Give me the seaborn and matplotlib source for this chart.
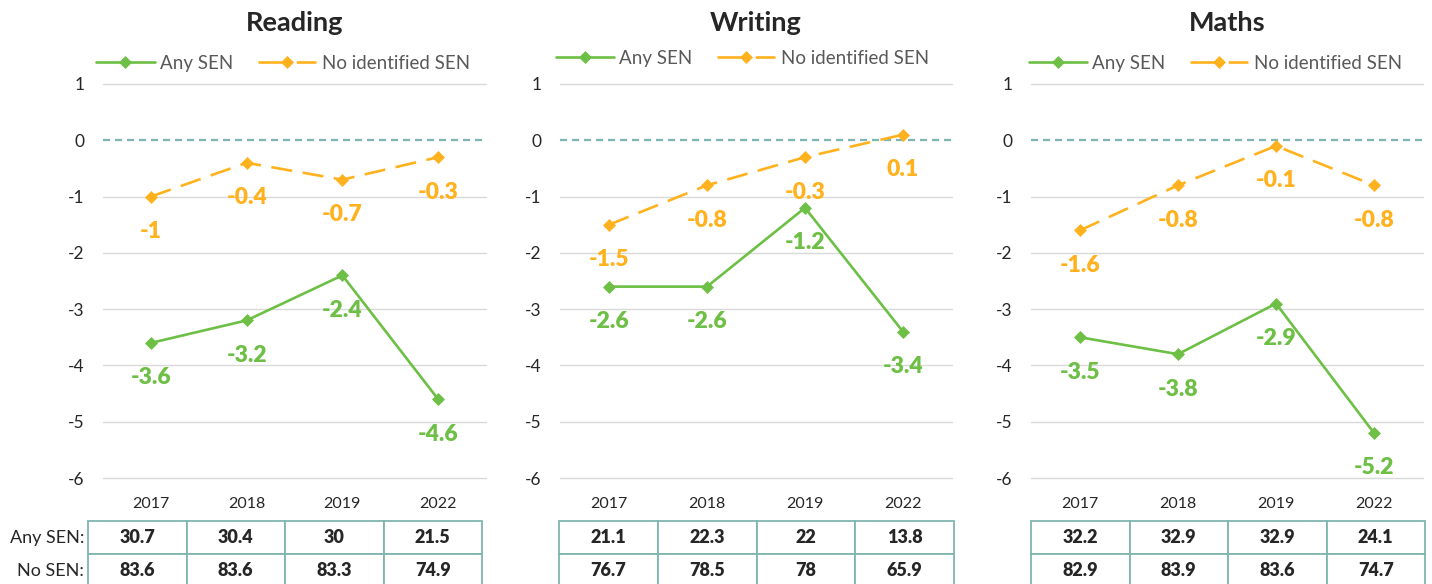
import matplotlib
matplotlib.use("Agg")
import matplotlib.pyplot as plt
import seaborn as sns
import pandas as pd

sns.set_theme(style="white")
plt.rcParams['font.family'] = ['Lato', 'DejaVu Sans']

years = ["2017", "2018", "2019", "2022"]
subjects = ["Reading", "Writing", "Maths"]

reading_any = [-3.6, -3.2, -2.4, -4.6]
reading_no = [-1, -0.4, -0.7, -0.3]
writing_any = [-2.6, -2.6, -1.2, -3.4]
writing_no = [-1.5, -0.8, -0.3, 0.1]
maths_any = [-3.5, -3.8, -2.9, -5.2]
maths_no = [-1.6, -0.8, -0.1, -0.8]

reading_tab_any = ["30.7", "30.4", "30", "21.5"]
reading_tab_no = ["83.6", "83.6", "83.3", "74.9"]
writing_tab_any = ["21.1", "22.3", "22", "13.8"]
writing_tab_no = ["76.7", "78.5", "78", "65.9"]
maths_tab_any = ["32.2", "32.9", "32.9", "24.1"]
maths_tab_no = ["82.9", "83.9", "83.6", "74.7"]

series_names = ["Any SEN", "No identified SEN"]
row_labels = ["Any SEN:", "No SEN:"]
yticks = [1, 0, -1, -2, -3, -4, -5, -6]

GREEN = "#6dbf45"
ORANGE = "#ffb21e"
TEAL = "#7fb5b0"
GRID = "#d9d9d9"
TEXT = "#262626"
LEG = "#595959"

W, H = 1432, 584
fig = plt.figure(figsize=(W / 100, H / 100), dpi=100)

# (title, series..., axes left px, axes right px, table left px, table right px, legend x, legend y)
panels = [
    ("Reading", reading_any, reading_no, reading_tab_any, reading_tab_no, 103, 486, 88, 482, 0.47, 1.012),
    ("Writing", writing_any, writing_no, writing_tab_any, writing_tab_no, 560, 952, 559, 954, 0.465, 1.025),
    ("Maths", maths_any, maths_no, maths_tab_any, maths_tab_no, 1031, 1423, 1031, 1425, 0.47, 1.012),
]

y_top_px, y_bot_px = 84, 478
for i, (title, any_v, no_v, tab_any, tab_no, x0, x1, t0, t1, lx, ly) in enumerate(panels):
    axw = x1 - x0
    ax = fig.add_axes([x0 / W, (H - y_bot_px) / H, axw / W, (y_bot_px - y_top_px) / H])
    df = pd.DataFrame({"year": years * 2, "value": any_v + no_v,
                       "series": [series_names[0]] * 4 + [series_names[1]] * 4})
    d_any = df[df.series == series_names[0]]
    d_no = df[df.series == series_names[1]]
    sns.lineplot(data=d_any, x="year", y="value", ax=ax, color=GREEN, lw=1.9,
                 marker="D", markersize=6, markeredgecolor=GREEN, markeredgewidth=0.5,
                 label=series_names[0], sort=False)
    sns.lineplot(data=d_no, x="year", y="value", ax=ax, color=ORANGE, lw=1.9,
                 linestyle=(0, (8, 4)), marker="D", markersize=6,
                 markeredgecolor=ORANGE, markeredgewidth=0.5,
                 label=series_names[1], sort=False)
    ax.axhline(0, color=TEAL, lw=1.6, ls=(0, (3.2, 2.2)), zorder=1)
    ax.set_ylim(-6, 1)
    ax.set_xlim(-0.5, 3.5)
    ax.set_yticks(yticks)
    ax.set_yticklabels([str(t) for t in yticks], fontsize=12.5, color=TEXT)
    ax.tick_params(axis="y", length=0, pad=13.5)
    ax.tick_params(axis="x", length=0, pad=14, labelsize=11.5, labelcolor=TEXT)
    for t in yticks:
        if t != 0:
            ax.axhline(t, color=GRID, lw=1.0, zorder=0, clip_on=False)
    for s in ax.spines.values():
        s.set_visible(False)
    ax.set_xlabel("")
    ax.set_ylabel("")
    ax.set_title(title, fontsize=19.5, fontweight="bold", color=TEXT, pad=38)

    for xi, (va, vn) in enumerate(zip(any_v, no_v)):
        for v, c in ((va, GREEN), (vn, ORANGE)):
            ax.annotate(f"{v:g}", xy=(xi, v), xytext=(0, -35), textcoords="offset pixels",
                        ha="center", va="center", fontsize=16.5, fontweight="heavy", color=c)

    leg = ax.legend(loc="lower center", bbox_to_anchor=(lx, ly), ncol=2, frameon=False,
                    fontsize=13.5, handlelength=3.1, columnspacing=1.3, handletextpad=0.3,
                    borderaxespad=0)
    for t in leg.get_texts():
        t.set_color(LEG)
    leg.get_lines()[1].set_linestyle((0, (11, 3.5)))

    # table below
    axh = y_bot_px - y_top_px
    row_h = 33 / axh
    top = -43 / axh
    tl = (t0 - x0) / axw
    tw = (t1 - t0) / axw
    tbl = ax.table(cellText=[tab_any, tab_no], cellLoc="center",
                   bbox=[tl, top - 2 * row_h, tw, 2 * row_h])
    tbl.auto_set_font_size(False)
    for (r, c), cell in tbl.get_celld().items():
        cell.set_edgecolor(TEAL)
        cell.set_linewidth(1.3)
        cell.get_text().set_fontsize(13)
        cell.get_text().set_fontweight("heavy")
        cell.get_text().set_color(TEXT)
    if i == 0:
        for k, lab in enumerate(row_labels):
            yc = top - (k + 0.5) * row_h
            ax.text((84 - x0) / axw, yc, lab, transform=ax.transAxes, ha="right", va="center",
                    fontsize=13, color=TEXT)

fig.savefig("out.png", dpi=100)
